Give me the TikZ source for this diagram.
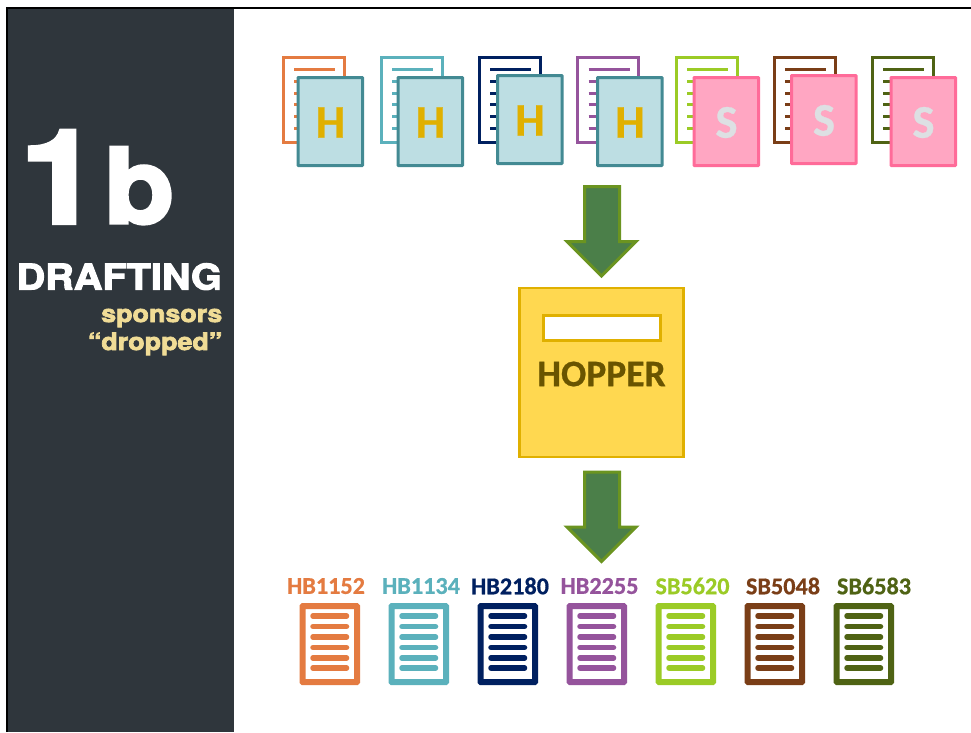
\documentclass[tikz,border=0pt]{standalone}
\usepackage{fontspec}
\setmainfont[BoldFeatures={FakeBold=0.6}]{Carlito}
\newfontfamily\blackfont[BoldFeatures={FakeBold=3,FakeStretch=1.12}]{TeX Gyre Heros}
\newfontfamily\numfont[BoldFeatures={FakeBold=3.2,FakeStretch=1.1}]{TeX Gyre Heros}
\definecolor{panel}{HTML}{2F363C}
\definecolor{cOrange}{HTML}{E47B41}
\definecolor{cTeal}{HTML}{5BB1BC}
\definecolor{cNavy}{HTML}{002060}
\definecolor{cPurple}{HTML}{95549C}
\definecolor{cLime}{HTML}{9BCB26}
\definecolor{cBrown}{HTML}{7A3E17}
\definecolor{cOlive}{HTML}{4F6314}
\definecolor{hFill}{HTML}{BDDEE3}
\definecolor{hLine}{HTML}{438A93}
\definecolor{hText}{HTML}{E0B000}
\definecolor{sFill}{HTML}{FFA6C2}
\definecolor{sLine}{HTML}{FF6B99}
\definecolor{sText}{HTML}{DDE0E3}
\definecolor{arrowFill}{HTML}{4B7F49}
\definecolor{arrowLine}{HTML}{6B9420}
\definecolor{hopFill}{HTML}{FFD850}
\definecolor{hopText}{HTML}{695400}
\definecolor{subText}{HTML}{F0DC96}
\tikzset{
  backpage/.style={draw=#1,fill=white,line width=3pt},
  frontpage/.style n args={2}{draw=#1,fill=#2,line width=3pt,rounded corners=.6pt},
  pageline/.style={draw=#1,line width=3pt},
  doclabel/.style={text=#1,font=\bfseries\fontsize{24.2}{26}\selectfont,anchor=center,inner sep=0pt},
  docframe/.style={draw=#1,fill=white,line width=6pt,rounded corners=.5pt},
  docline/.style={draw=#1,line width=5.5pt,line cap=round},
  blockarrow/.style={draw=arrowLine,fill=arrowFill,line width=3pt,line join=miter},
}
% #1 back-page x, #2 colour, #3 front x, #4 front top y, #5 fill, #6 line, #7 letter colour, #8 letter
\newcommand{\pagepair}[8]{%
  \draw[backpage=#2] (#1,57) rectangle ++(61,85);
  \draw[pageline=#2] (#1+11,69) -- ++(41,0);
  \foreach \ly in {81,93,104,116,128}{\draw[pageline=#2] (#1+11,\ly) -- ++(7,0);}
  \draw[frontpage={#6}{#5}] (#3,#4) rectangle ++(64.5,88);
  \node[text=#7,font=\bfseries\fontsize{47}{50}\selectfont,inner sep=0pt] at (#3+32.5,#4+45) {#8};
}
% #1 x, #2 colour, #3 label, #4 label centre x
\newcommand{\bottomdoc}[4]{%
  \node[doclabel=#2] at (#4,586) {#3};
  \draw[docframe=#2] (#1+3,606) rectangle ++(54.5,76);
  \foreach \ly in {616,626.5,637,647.5,658,668}{\draw[docline=#2] (#1+13.5,\ly) -- ++(33.5,0);}
}
\newcommand{\flowarrow}[1]{%
  \draw[blockarrow] (584.5,#1) -- (619.5,#1) -- (619.5,#1+55) -- (636,#1+55) -- (601.5,#1+89.5) -- (567,#1+55) -- (584.5,#1+55) -- cycle;
}
\begin{document}
\begin{tikzpicture}[x=1pt,y=-1pt]
\useasboundingbox (0,0) rectangle (971,732);
\fill[white] (0,0) rectangle (971,732);
\fill[panel] (8,8) rectangle (234,732);
\draw[black,line width=2pt] (7,732) -- (7,8) -- (971,8);
\node[anchor=base west,text=white,inner sep=0pt,font=\numfont\bfseries\fontsize{130}{130}\selectfont] (num) at (20,223) {1};
\node[anchor=base west,text=white,inner sep=0pt,font=\numfont\bfseries\fontsize{104}{104}\selectfont] (letter) at (104,223) {b};
\node[anchor=base east,text=white,inner sep=0pt,font=\blackfont\bfseries\fontsize{35.4}{35.4}\selectfont] (draft) at (222,289.5) {DRAFTING};
\node[anchor=base east,text=subText,inner sep=0pt,font=\blackfont\bfseries\fontsize{24}{24}\selectfont] (spon) at (222.5,322) {sponsors};
\node[anchor=base east,text=subText,inner sep=0pt,font=\blackfont\bfseries\fontsize{24}{24}\selectfont] (drop) at (222.5,350) {“dropped”};
\pagepair{283}{cOrange}{298}{77.5}{hFill}{hLine}{hText}{H}
\pagepair{381}{cTeal}{398}{77.5}{hFill}{hLine}{hText}{H}
\pagepair{479}{cNavy}{497.5}{75.5}{hFill}{hLine}{hText}{H}
\pagepair{577.5}{cPurple}{597.5}{77.5}{hFill}{hLine}{hText}{H}
\pagepair{676}{cLime}{694}{77.5}{sFill}{sLine}{sText}{S}
\pagepair{774}{cBrown}{791.5}{75.5}{sFill}{sLine}{sText}{S}
\pagepair{872}{cOlive}{891}{77.5}{sFill}{sLine}{sText}{S}
\flowarrow{186.5}
\draw[draw=hText,fill=hopFill,line width=2.5pt] (519.5,288) rectangle (683.5,457);
\draw[draw=hText,fill=white,line width=2.5pt] (543.5,315.5) rectangle (660.5,340.5);
\node[text=hopText,font=\bfseries\fontsize{37.5}{40}\selectfont,inner sep=0pt] (hopper) at (601.5,374) {HOPPER};
\flowarrow{472}
\bottomdoc{299.5}{cOrange}{HB1152}{326}
\bottomdoc{388.5}{cTeal}{HB1134}{421}
\bottomdoc{477.5}{cNavy}{HB2180}{510}
\bottomdoc{566.5}{cPurple}{HB2255}{599.5}
\bottomdoc{655.5}{cLime}{SB5620}{692.5}
\bottomdoc{744.5}{cBrown}{SB5048}{783}
\bottomdoc{833.5}{cOlive}{SB6583}{874}
\end{tikzpicture}
\end{document}
